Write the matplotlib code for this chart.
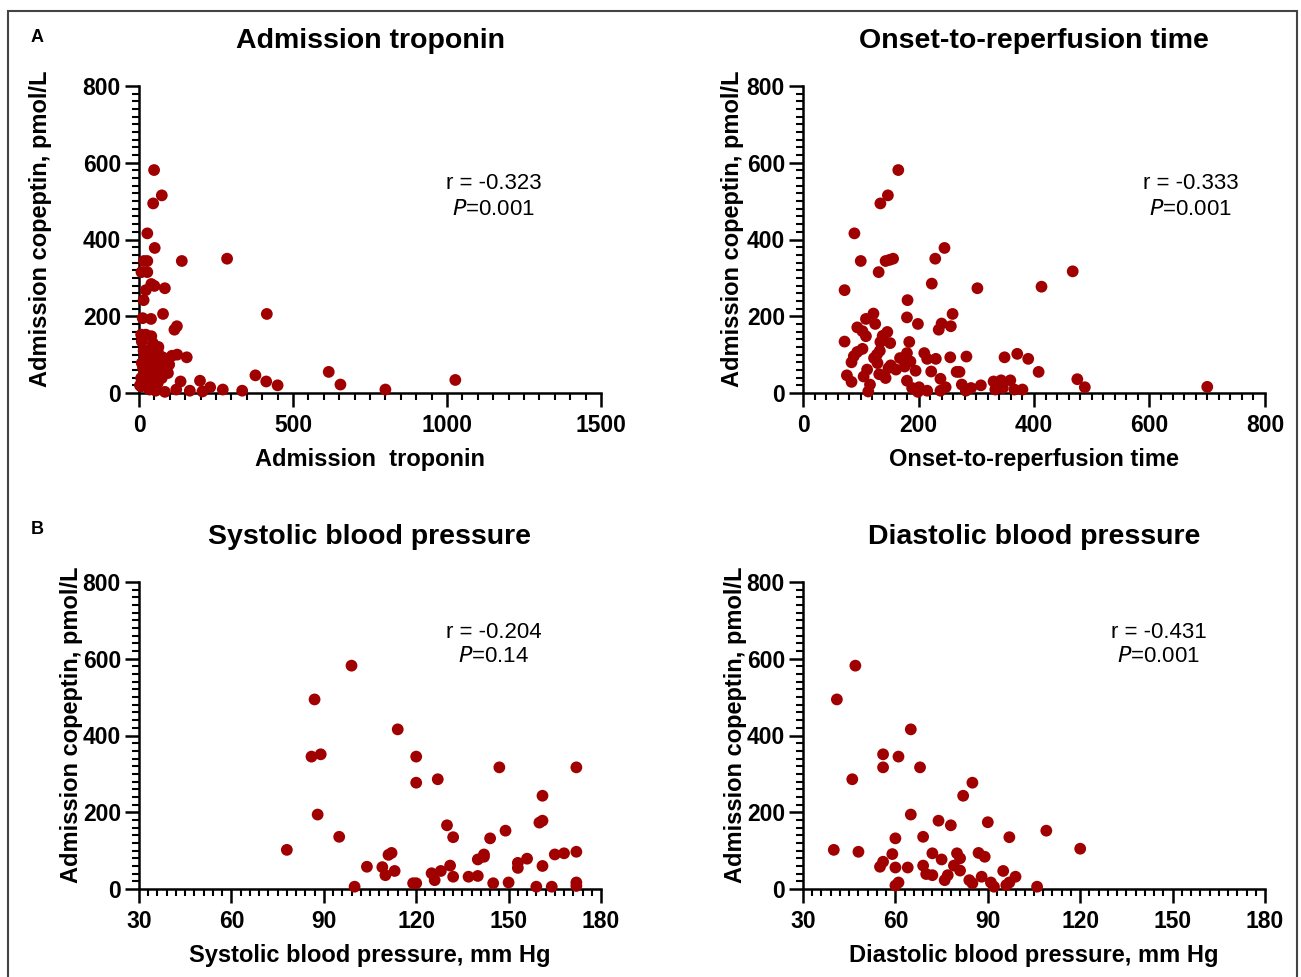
import matplotlib
matplotlib.use("Agg")
from matplotlib import pyplot as plt
from matplotlib.ticker import MultipleLocator
from matplotlib.patches import Rectangle

plt.rcParams['font.family'] = ['Liberation Sans', 'DejaVu Sans']

# panel A: admission troponin vs copeptin
trop_x = [49, 74, 46, 27, 51, 286, 139, 16, 27, 8, 27, 40, 50, 22, 84, 15, 415, 78,
          12, 39, 115, 123, 7, 22, 40, 9, 45, 155, 124, 107, 77, 616, 378, 413, 450,
          654, 800, 1027, 335, 272, 231, 198, 165, 206, 135, 121, 84, 54, 94, 98, 88,
          7, 20, 34, 13, 27, 47, 61, 40, 58, 74, 34, 7, 18, 36, 54, 67, 50, 23, 9, 61,
          43, 77, 30, 3, 15, 63]
trop_y = [581, 515, 494, 416, 378, 350, 344, 344, 344, 315, 315, 284, 279, 268, 273,
          242, 206, 206, 195, 193, 165, 174, 152, 152, 148, 134, 130, 93, 100, 97, 93,
          55, 46, 30, 20, 22, 9, 34, 6, 9, 15, 32, 6, 4, 30, 9, 3, 6, 52, 74, 67, 17,
          30, 48, 65, 82, 100, 108, 74, 56, 39, 9, 39, 100, 113, 87, 78, 30, 48, 78,
          26, 22, 65, 65, 20, 110, 120]

# panel B: onset-to-reperfusion time vs copeptin
time_x = [165, 147, 134, 89, 245, 100, 143, 150, 156, 229, 131, 467, 72, 223, 302,
          413, 181, 122, 259, 180, 109, 125, 199, 240, 256, 235, 94, 103, 109, 146,
          138, 151, 184, 72, 134, 103, 94, 88, 84, 133, 128, 123, 129, 168, 180, 186,
          176, 152, 148, 161, 195, 210, 215, 230, 255, 283, 222, 266, 271, 238, 349,
          371, 390, 408, 475, 488, 700, 76, 84, 105, 111, 132, 143, 116, 113, 180, 189,
          201, 199, 215, 238, 247, 275, 282, 291, 308, 330, 333, 343, 346, 359, 366, 380]
time_y = [581, 515, 494, 416, 378, 344, 344, 347, 350, 350, 315, 317, 268, 285, 273,
          277, 242, 207, 206, 197, 193, 180, 180, 181, 174, 165, 171, 161, 148, 159,
          149, 130, 133, 134, 133, 115, 107, 96, 80, 110, 100, 91, 78, 91, 104, 82, 69,
          72, 65, 61, 58, 104, 89, 89, 93, 95, 56, 55, 55, 37, 93, 102, 89, 55, 36, 15,
          16, 46, 29, 43, 61, 49, 39, 22, 4, 32, 13, 15, 3, 6, 6, 15, 22, 6, 13, 20, 30,
          9, 33, 13, 33, 9, 9]

# panel C: systolic blood pressure vs copeptin
sbp_x = [99, 87, 114, 86, 89, 120, 147, 172, 120, 127, 88, 161, 130, 132, 95, 78, 149,
         160, 161, 144, 111, 112, 140, 142, 142, 156, 165, 168, 172, 161, 153, 153, 104,
         109, 110, 113, 131, 125, 128, 126, 132, 137, 140, 119, 120, 100, 145, 150, 159,
         164, 172, 172]
sbp_y = [582, 494, 416, 345, 351, 345, 317, 317, 277, 286, 194, 243, 166, 135, 136, 102,
         152, 173, 178, 132, 89, 94, 77, 90, 84, 79, 90, 93, 97, 60, 68, 55, 58, 57, 36,
         47, 61, 41, 47, 23, 32, 32, 34, 15, 15, 6, 15, 17, 6, 6, 17, 8]

# panel D: diastolic blood pressure vs copeptin
dbp_x = [47, 41, 65, 56, 61, 56, 68, 46, 85, 82, 65, 74, 78, 90, 109, 97, 69, 60, 40,
         48, 120, 59, 72, 80, 87, 81, 89, 75, 56, 55, 60, 64, 69, 79, 70, 72, 81, 77, 76,
         95, 88, 84, 85, 99, 91, 97, 96, 92, 61, 60, 106]
dbp_y = [582, 494, 416, 351, 345, 317, 317, 286, 277, 243, 194, 178, 166, 174, 152, 135,
         136, 132, 102, 97, 105, 91, 93, 93, 94, 80, 84, 77, 71, 58, 56, 56, 61, 61, 39,
         36, 48, 36, 23, 47, 32, 23, 15, 32, 17, 17, 10, 6, 17, 9, 6]

titles = ["Admission troponin", "Onset-to-reperfusion time",
          "Systolic blood pressure", "Diastolic blood pressure"]
xlabels = ["Admission  troponin", "Onset-to-reperfusion time",
           "Systolic blood pressure, mm Hg", "Diastolic blood pressure, mm Hg"]
r_text = ["r = -0.323", "r = -0.333", "r = -0.204", "r = -0.431"]
p_vals = ["0.001", "0.001", "0.14", "0.001"]

W, H = 1301, 977
fig = plt.figure(figsize=(W / 100, H / 100), dpi=100)

# outer frame
fig.patches.append(Rectangle((8 / W, -0.05), (1297 - 8) / W, 1.05 - 11 / H,
                             transform=fig.transFigure, fill=False,
                             edgecolor='#444444', linewidth=1.5))

# axes boxes in pixels: left, top
boxes = [(139, 86), (803, 86), (139, 582), (803, 582)]
aw, ah = 462, 307
data = [(trop_x, trop_y), (time_x, time_y), (sbp_x, sbp_y), (dbp_x, dbp_y)]
xlims = [(0, 1500), (0, 800), (30, 180), (30, 180)]
xmajor = [500, 200, 30, 30]
xminor = [50, 20, 3, 3]
ylab_x = [-0.188, -0.128, -0.122, -0.122]
text_pos = [(0.768, 0.681, 0.599), (0.839, 0.681, 0.599),
            (0.768, 0.837, 0.756), (0.770, 0.837, 0.756)]

for i, (l, t) in enumerate(boxes):
    ax = fig.add_axes([l / W, 1 - (t + ah) / H, aw / W, ah / H])
    x, y = data[i]
    ax.scatter(x, y, s=72, color='#a00000', edgecolors='none', zorder=3, clip_on=False)
    ax.set_xlim(*xlims[i])
    ax.set_ylim(0, 800)
    ax.xaxis.set_major_locator(MultipleLocator(xmajor[i]))
    ax.xaxis.set_minor_locator(MultipleLocator(xminor[i]))
    ax.yaxis.set_major_locator(MultipleLocator(200))
    ax.yaxis.set_minor_locator(MultipleLocator(20))
    for s in ['top', 'right']:
        ax.spines[s].set_visible(False)
    for s in ['left', 'bottom']:
        ax.spines[s].set_linewidth(1.8)
    ax.tick_params(which='major', length=10, width=1.8, labelsize=16.5, pad=3)
    ax.tick_params(axis='x', which='major', pad=5)
    ax.tick_params(which='minor', length=5, width=1.5)
    for lab in ax.get_xticklabels() + ax.get_yticklabels():
        lab.set_fontweight('bold')
    ax.set_xlabel(xlabels[i], fontsize=17, fontweight='bold', labelpad=8)
    ax.set_ylabel("Admission copeptin, pmol/L", fontsize=17, fontweight='bold')
    ax.yaxis.set_label_coords(ylab_x[i], 0.535)
    ax.set_title(titles[i], fontsize=20.5, fontweight='bold', pad=27)
    tx, ry, py = text_pos[i]
    ax.text(tx, ry, r_text[i], transform=ax.transAxes, ha='center', va='center', fontsize=16)
    ax.text(tx, py, r"$\it{P}$=" + p_vals[i], transform=ax.transAxes,
            ha='center', va='center', fontsize=16)

fig.text(37 / W, 1 - 38 / H, "A", fontsize=13, fontweight='bold', ha='center', va='center')
fig.text(37 / W, 1 - 530 / H, "B", fontsize=13, fontweight='bold', ha='center', va='center')

fig.savefig("out.png", dpi=100)
